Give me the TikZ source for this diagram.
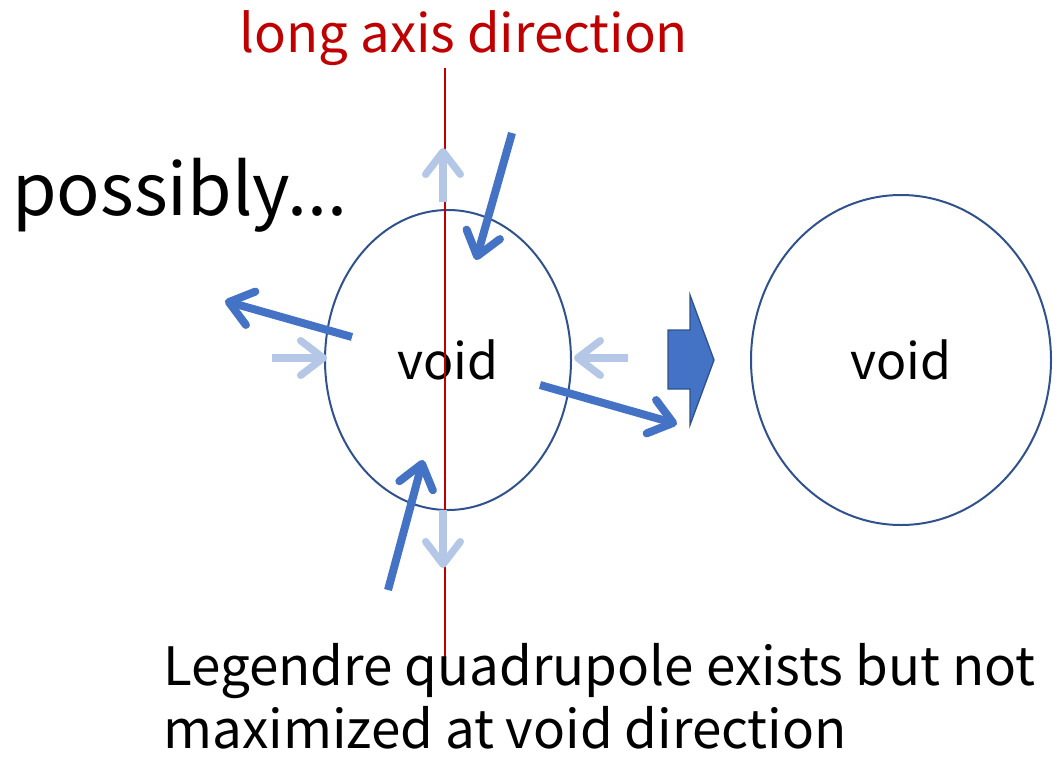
\documentclass[tikz,border=0pt]{standalone}
\usepackage{fontspec}
\setmainfont{Noto Sans CJK JP}
\usetikzlibrary{arrows.meta, positioning, shapes.geometric}
\definecolor{axisred}{HTML}{C00000}
\definecolor{voidedge}{HTML}{2F528F}
\definecolor{flowdark}{HTML}{4472C4}
\definecolor{flowlight}{HTML}{B4C7E7}

\begin{document}
\begin{tikzpicture}[
    x=0.75pt, y=-0.75pt,
    >={Straight Barb[length=17pt, width=26pt, round]},
    every node/.style={inner sep=0pt},
    voidshape/.style={ellipse, draw=voidedge, line width=1.5pt, font=\fontsize{37.5}{40}\selectfont},
    weakflow/.style={->, flowlight, line width=5.5pt},
    strongflow/.style={->, flowdark, line width=6pt},
]
\useasboundingbox (0,0) rectangle (1063,757);

% Voids before and after
\node[voidshape, minimum width=184.5pt, minimum height=225pt] (voidA) at (448,360) {void};
\node[voidshape, minimum width=225pt, minimum height=247.5pt] (voidB) at (901,360) {void};

% Long axis
\draw[axisred, line width=1.5pt] (445,68) -- (445,660);
\node[text=axisred, font=\fontsize{39.5}{42}\selectfont] (axislabel) at (464,38) {long axis direction};

\node[anchor=base west, font=\fontsize{54}{58}\selectfont] (maybe) at (12,215) {possibly...};

% Quadrupole (weak) flows
\draw[weakflow] (443,202) -- (443,148);
\draw[weakflow] (443,510) -- (443,568);
\draw[weakflow] (272,358) -- (327,358);
\draw[weakflow] (628,358) -- (574,358);

% Actual (strong) flows
\draw[strongflow] (512,133) -- (476,260);
\draw[strongflow] (388,590) -- (423,460);
\draw[strongflow] (352,337) -- (225,301);
\draw[strongflow] (540,385) -- (677,424);

% Evolution arrow
\filldraw[fill=flowdark, draw=voidedge, line width=1pt]
    (668,330) -- (690,330) -- (690,295) -- (714,360) -- (690,425) -- (690,389) -- (668,389) -- cycle;

% Caption
\node[anchor=base west, font=\fontsize{39.7}{44}\selectfont] (noteA) at (163,685) {Legendre quadrupole exists but not};
\node[anchor=base west, font=\fontsize{39.7}{44}\selectfont] (noteB) at (163,748) {maximized at void direction};

\end{tikzpicture}
\end{document}
